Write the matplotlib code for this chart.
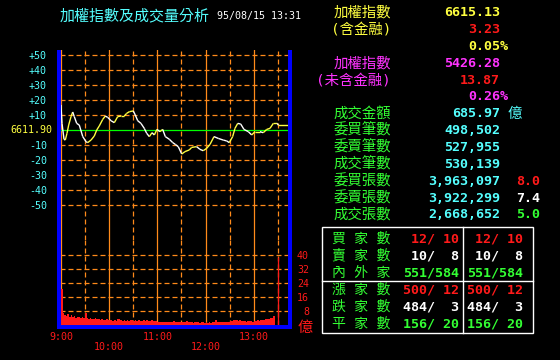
import numpy as np
import matplotlib
matplotlib.use("Agg")
import matplotlib.pyplot as plt
from matplotlib.collections import LineCollection
from matplotlib.patches import Rectangle
from matplotlib.lines import Line2D
from matplotlib.ticker import MultipleLocator

W, H = 560, 360
ORANGE = "#ff8a1a"
CYAN = "#55ffff"
YELLOW = "#ffff40"
RED = "#ff1a1a"
MAGENTA = "#ff33ff"
GREEN = "#33ff33"
WHITE = "#ffffff"
BLUE = "#0000ff"
MONO = ["DejaVu Sans Mono", "Noto Sans CJK TC"]
CJK = ["Noto Sans CJK TC", "DejaVu Sans Mono"]

# index change vs previous close (points), minutes after 9:00
prev_close = 6611.90
price_min = [0, 1.3, 3.8, 5.4, 7.5, 9.6, 12.5, 14.6, 16.6, 19.6, 22.8, 27.1, 31.2, 33.3,
             37.4, 41.5, 44.5, 47.7, 52, 55.2, 58.2, 62.3, 66.4, 70.6, 74.7, 78.8, 81.8,
             85.1, 90, 92.5, 95.5, 99.6, 103.7, 106.7, 110, 113.3, 116.2, 119.5, 123.2,
             126.6, 129.9, 134.9, 139.1, 142.3, 146, 150.3, 154.4, 159.7, 162.7, 168.9,
             173, 177.1, 181.4, 185.5, 190.5, 195.8, 202, 206.3, 209.5, 213.7, 216.6,
             220, 223.7, 227.8, 233.2, 237.4, 241.5, 247.7, 251.8, 256.1, 260.2, 264.3,
             269.3, 270.5, 282.5]
price_chg = [16.7, 4.4, -6.2, -6.7, -2.2, 3.3, 8.9, 12.0, 8.9, 4.4, 3.3, -4.4, -7.8, -8.4,
             -6.7, -4.0, 0.0, 2.7, 7.1, 9.3, 8.4, 6.2, 4.9, 8.9, 9.3, 9.3, 11.1,
             12.2, 12.7, 10.0, 6.2, 4.4, 1.1, -2.2, -4.4, -1.8, -3.3, 0.4, -1.1,
             0.4, -4.4, -6.2, -8.4, -9.6, -11.1, -16.0, -14.4, -13.3, -11.6, -11.1,
             -12.9, -13.8, -12.2, -9.6, -4.4, -5.6, -6.7, -7.3, -8.4, -4.4, 1.1,
             4.4, 4.0, 0.4, -1.1, -3.3, -1.1, -1.1, -1.8, 0.4, 1.1, 4.4,
             4.4, 3.23, 3.23]

# traded value per 2 minutes (億), 9:00 - 13:24, plus closing auction at 13:30
vol_min = np.arange(0, 266, 2)
vol_val = [20.6, 7.0, 5.8, 5.2, 6.0, 4.8, 5.5, 4.6, 5.0, 4.2, 4.8, 4.4, 3.9, 4.5, 4.0, 6.8,
           4.0, 3.6, 3.9, 3.3, 3.5, 3.8, 3.2, 3.4, 3.0, 3.6, 3.1, 2.9, 3.3, 3.0,
           2.6, 2.8, 2.5, 2.7, 2.4, 3.6, 3.2, 2.6, 2.3, 2.7, 2.5, 2.9, 2.4, 2.6, 2.8,
           2.4, 2.7, 2.3, 2.6, 2.5, 2.2, 2.9, 2.4, 2.6, 2.3, 2.5, 2.8, 2.1, 2.3, 2.0,
           1.8, 1.6, 1.9, 1.7, 1.5, 1.8, 1.6, 1.9, 1.7, 1.5, 2.0, 1.7, 1.6, 1.8, 1.5,
           1.7, 1.9, 1.6, 2.3, 1.8, 1.5, 1.7, 1.4, 1.6, 1.5, 1.7, 1.4, 1.6, 1.5, 1.4,
           1.5, 1.3, 1.6, 1.4, 1.5, 1.7, 2.6, 1.9, 1.6, 1.5, 1.7, 1.6, 1.8, 1.5, 1.9,
           2.1, 2.4, 2.7, 2.9, 2.6, 2.3, 2.8, 2.2, 2.0, 2.4, 1.9, 2.1, 2.3, 2.0, 1.9,
           2.1, 2.4, 2.6, 2.3, 2.9, 2.7, 3.1, 3.4, 3.2, 3.6, 4.1, 3.8, 5.1]
close_min, close_vol = 270, 38.9

y_ticks = [50, 40, 30, 20, 10, -10, -20, -30, -40, -50]
vol_ticks = [8, 16, 24, 32, 40]
hour_ticks = [0, 60, 120, 180, 240]
hour_labels = ["9:00", "10:00", "11:00", "12:00", "13:00"]

right_rows = [
    ("加權指數", YELLOW, "6615.13", YELLOW, "", None),
    ("(含金融)", YELLOW, "3.23", RED, "", None),
    ("", None, "0.05%", YELLOW, "", None),
    ("加權指數", MAGENTA, "5426.28", MAGENTA, "", None),
    ("(未含金融)", MAGENTA, "13.87", RED, "", None),
    ("", None, "0.26%", MAGENTA, "", None),
    ("成交金額", GREEN, "685.97", CYAN, "", None),
    ("委買筆數", GREEN, "498,502", CYAN, "", None),
    ("委賣筆數", GREEN, "527,955", CYAN, "", None),
    ("成交筆數", GREEN, "530,139", CYAN, "", None),
    ("委買張數", GREEN, "3,963,097", CYAN, "8.0", RED),
    ("委賣張數", GREEN, "3,922,299", CYAN, "7.4", WHITE),
    ("成交張數", GREEN, "2,668,652", CYAN, "5.0", GREEN),
]
table_labels = ["買 家 數", "賣 家 數", "內 外 家", "漲 家 數", "跌 家 數", "平 家 數"]
table_vals = ["12/ 10", "10/  8", "551/584", "500/ 12", "484/  3", "156/ 20"]
table_colors = [RED, WHITE, GREEN, RED, WHITE, GREEN]


def fx(x):
    return x / W


def fy(y):
    return 1 - y / H


fig = plt.figure(figsize=(W / 100, H / 100), dpi=100, facecolor="black")

ax = fig.add_axes([fx(60), fy(240), 228 / W, 190 / H], facecolor="black")
axv = fig.add_axes([fx(60), fy(325), 228 / W, 85 / H], facecolor="black")

dash = (0, (4, 2.4))
for a in (ax, axv):
    a.set_xlim(-1.2, 282.6)
    for s in a.spines.values():
        s.set_visible(False)
    a.xaxis.set_major_locator(MultipleLocator(60))
    a.xaxis.set_minor_locator(MultipleLocator(30))
    a.grid(True, which="major", axis="x", color=ORANGE, lw=0.9, ls="-")
    a.grid(True, which="minor", axis="x", color=ORANGE, lw=0.9, ls=dash)
    a.grid(True, which="major", axis="y", color=ORANGE, lw=0.9, ls=dash)
    a.tick_params(which="both", length=0, labelbottom=False)
    a.set_axisbelow(True)

# index panel
ax.set_ylim(-73.33, 53.33)
ax.set_yticks(y_ticks)
ax.set_yticklabels([f"{t:+d}" for t in y_ticks], color=CYAN, fontsize=7.2,
                   family="DejaVu Sans Mono")
ax.tick_params(axis="y", pad=9.4)
ax.axhline(0, color="#00ff00", lw=0.9, zorder=2)
ax.text(-7.2 / 228, 0, f"{prev_close:.2f}", transform=ax.get_yaxis_transform(),
        ha="right", va="center", color=YELLOW, fontsize=7.2, family="DejaVu Sans Mono")

pts = np.column_stack([price_min, price_chg])
segs = np.stack([pts[:-1], pts[1:]], axis=1)
cols = [YELLOW if b >= a else WHITE for a, b in zip(price_chg[:-1], price_chg[1:])]
ax.add_collection(LineCollection(segs, colors=cols, lw=1.0, zorder=3))

# volume panel
axv.set_ylim(0, 48.57)
axv.bar(vol_min, vol_val, width=2, align="edge", color=RED, lw=0, zorder=2)
axv.vlines(close_min, 0, close_vol, color=RED, lw=0.9, zorder=3)
axv.yaxis.tick_right()
axv.set_yticks(vol_ticks)
axv.set_yticklabels([str(t) for t in vol_ticks], color=RED, fontsize=7.2,
                    family="DejaVu Sans Mono")
axv.tick_params(axis="y", pad=15.1)
for lab in axv.get_yticklabels():
    lab.set_ha("right")
for i, (m, lab) in enumerate(zip(hour_ticks, hour_labels)):
    yy = -12 / 85 if i % 2 == 0 else -22 / 85
    axv.text(m, yy, lab, transform=axv.get_xaxis_transform(), ha="center", va="center",
             color=RED, fontsize=7.2, family="DejaVu Sans Mono")
fig.text(fx(305), fy(327), "億", color=RED, fontsize=11, family=CJK, ha="center", va="center")

# blue frame
for (x0, y0, w, h) in [(57, 50, 3.5, 279), (288, 50, 4, 279), (57, 325, 35 + 200, 4)]:
    fig.add_artist(Rectangle((fx(x0), fy(y0 + h)), w / W, h / H, transform=fig.transFigure,
                             color=BLUE, lw=0))

# title
fig.text(fx(60), fy(16), "加權指數及成交量分析", color=CYAN, fontsize=10.8, family=CJK,
         ha="left", va="center")
fig.text(fx(217), fy(16), "95/08/15 13:31", color=WHITE, fontsize=7.2,
         family="DejaVu Sans Mono", ha="left", va="center")

# right info panel
for i, (lab, lc, val, vc, extra, ec) in enumerate(right_rows):
    y = fy(12.7 + 16.85 * i)
    if lab:
        fig.text(fx(391), y, lab, color=lc, fontsize=10.4, family=MONO, ha="right", va="center")
    vx = 508 if val.endswith("%") else 500
    fig.text(fx(vx), y, val, color=vc, fontsize=9.6, family="DejaVu Sans Mono",
             weight="bold", ha="right", va="center")
    if extra:
        fig.text(fx(540), y, extra, color=ec, fontsize=9.6, family="DejaVu Sans Mono",
                 weight="bold", ha="right", va="center")
fig.text(fx(515), fy(12.7 + 16.85 * 6), "億", color=CYAN, fontsize=10.4, family=CJK,
         ha="center", va="center")

# breadth table
fig.add_artist(Rectangle((fx(322), fy(333)), 211 / W, 106 / H, transform=fig.transFigure,
                         fill=False, ec=WHITE, lw=1.0))
fig.add_artist(Line2D([fx(463), fx(463)], [fy(227), fy(333)], transform=fig.transFigure,
                      color=WHITE, lw=1.0))
fig.add_artist(Line2D([fx(322), fx(533)], [fy(281), fy(281)], transform=fig.transFigure,
                      color=WHITE, lw=1.0))
for i, (lab, val, c) in enumerate(zip(table_labels, table_vals, table_colors)):
    y = fy(238.5 + 17.1 * i)
    fig.text(fx(332), y, lab, color=GREEN, fontsize=10, family=MONO, ha="left", va="center")
    for xr in (459, 523):
        fig.text(fx(xr), y, val, color=c, fontsize=9.6, family="DejaVu Sans Mono",
                 weight="bold", ha="right", va="center")

fig.savefig("out.png", dpi=100, facecolor="black")
